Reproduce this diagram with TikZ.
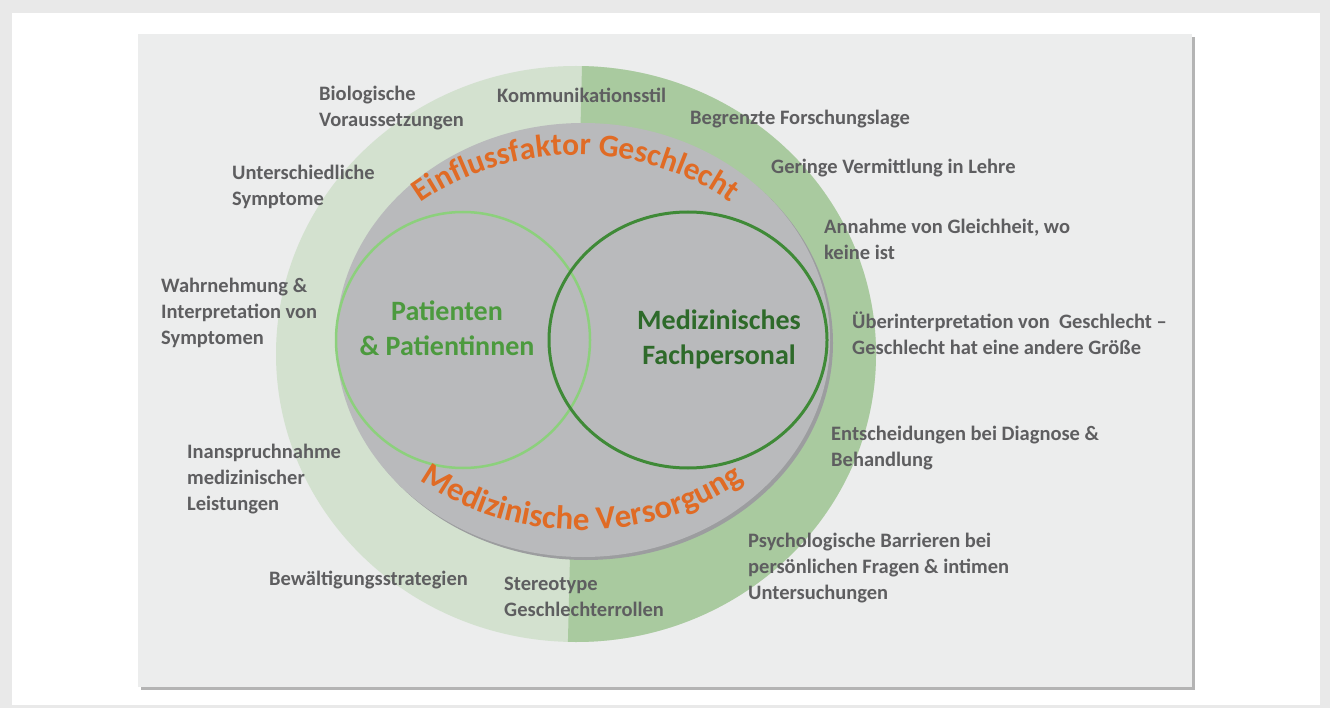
\documentclass[tikz,border=0pt]{standalone}
\usepackage{fontspec}
\setmainfont{Carlito}
\usetikzlibrary{decorations.text}

\definecolor{outergray}{HTML}{E9E9E9}
\definecolor{panelgray}{HTML}{ECEDED}
\definecolor{panelshade}{HTML}{B4B4B4}
\definecolor{ringlight}{HTML}{D3E1CF}
\definecolor{ringdark}{HTML}{A9CA9F}
\definecolor{coregray}{HTML}{B9BABC}
\definecolor{coreshade}{HTML}{9C9D9F}
\definecolor{lightgreen}{HTML}{8CD07C}
\definecolor{darkgreen}{HTML}{3F8A37}
\definecolor{patgreen}{HTML}{4C9A3E}
\definecolor{staffgreen}{HTML}{2E6A2A}
\definecolor{orangetext}{HTML}{E06B25}
\definecolor{labelgray}{HTML}{5E5E60}

\begin{document}
\begin{tikzpicture}[x=1pt,y=-1pt,
    factor/.style={anchor=north west,align=left,inner sep=0pt,text=labelgray,
      font=\bfseries\fontsize{20.5}{26}\selectfont},
    group/.style={align=center,inner sep=0pt,font=\bfseries\fontsize{28}{35}\selectfont}]
    \useasboundingbox (0,0) rectangle (1330,708);
    \fill[outergray] (0,0) rectangle (1330,708);
    \fill[white] (12,13) rectangle (1320,705);
    \fill[panelshade] (141,37) rectangle (1195,690);
    \fill[panelgray] (138,34) rectangle (1192,687);

    % ring
    \fill[ringlight] (576,354) ellipse [x radius=300, y radius=288];
    \begin{scope}
        \clip (583.6,0) -- (1330,0) -- (1330,708) -- (566.3,708) -- cycle;
        \fill[ringdark] (576,354) ellipse [x radius=300, y radius=288];
    \end{scope}

    % core with the two groups
    \fill[coreshade] (586,343) ellipse [x radius=247, y radius=217];
    \fill[coregray] (583,340) ellipse [x radius=247, y radius=217];
    \draw[lightgreen,line width=2.5] (463,340) ellipse [x radius=127, y radius=128];
    \draw[darkgreen,line width=3] (688,340) ellipse [x radius=139, y radius=128];

    \node[group,text=patgreen] (pat) at (447,328) {Patienten\\\& Patientinnen};
    \node[group,text=staffgreen] (staff) at (719,339) {Medizinisches\\Fachpersonal};

    \path[decorate,decoration={text along path,text align=center,text color=orangetext,
        text={|\bfseries\fontsize{31.5}{38}\selectfont|Einflussfaktor Geschlecht}}]
        (576,343) ++(200:232 and 188) arc[start angle=200, end angle=340, x radius=232, y radius=188];
    \path[decorate,decoration={text along path,text align=center,text color=orangetext,
        text={|\bfseries\fontsize{33}{40}\selectfont|Medizinische Versorgung}}]
        (582,340) ++(160:240 and 190) arc[start angle=160, end angle=20, x radius=240, y radius=190];

    % factors
    \node[factor] (bio) at (319,86) {Biologische\\Voraussetzungen};
    \node[factor] (komm) at (497,88) {Kommunikationsstil};
    \node[factor] (forsch) at (690,110) {Begrenzte Forschungslage};
    \node[factor] (sympt) at (232,165) {Unterschiedliche\\Symptome};
    \node[factor] (lehre) at (771,159) {Geringe Vermittlung in Lehre};
    \node[factor] (gleich) at (824,219) {Annahme von Gleichheit, wo\\keine ist};
    \node[factor] (wahr) at (161,278) {Wahrnehmung \&\\Interpretation von\\Symptomen};
    \node[factor] (ueber) at (852,312) {Überinterpretation von\ \ Geschlecht –\\Geschlecht hat eine andere Größe};
    \node[factor] (leist) at (187,444) {Inanspruchnahme\\medizinischer\\Leistungen};
    \node[factor] (entsch) at (831,426) {Entscheidungen bei Diagnose \&\\Behandlung};
    \node[factor] (psych) at (748,533) {Psychologische Barrieren bei\\persönlichen Fragen \& intimen\\Untersuchungen};
    \node[factor] (bewael) at (269,571) {Bewältigungsstrategien};
    \node[factor] (stereo) at (504,577) {Stereotype\\Geschlechterrollen};
\end{tikzpicture}
\end{document}
